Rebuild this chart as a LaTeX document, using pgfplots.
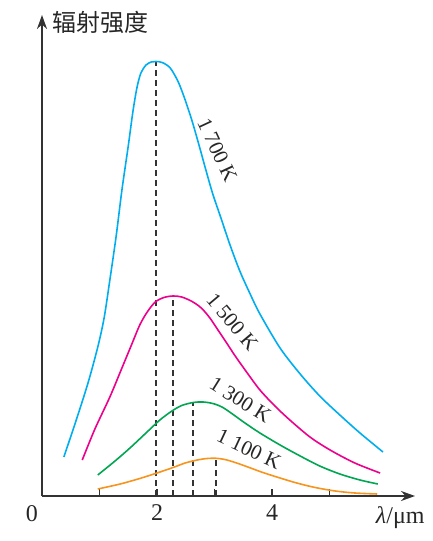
\documentclass[border=0pt]{standalone}
\usepackage{pgfplots}
\pgfplotsset{compat=1.18}
\usepackage{fontspec}
\setmainfont{Liberation Serif}
\newfontfamily\cjk{Noto Sans CJK SC}
\usetikzlibrary{arrows.meta}
\definecolor{cA}{RGB}{0,174,239}
\definecolor{cB}{RGB}{236,0,140}
\definecolor{cC}{RGB}{0,166,81}
\definecolor{cD}{RGB}{247,148,29}
\begin{document}
\begin{tikzpicture}
\begin{axis}[
  at={(0pt,0pt)}, anchor=origin,
  scale only axis, width=186.5pt, height=240.5pt,
  xmin=0, xmax=6.487, ymin=0, ymax=481,
  axis x line=bottom, axis y line=left,
  axis line style={line width=1pt, black!80, -{Stealth[length=7pt,width=5pt]}},
  xtick={1,2,3,4,5}, xticklabels={,2,,4,},
  ytick=\empty,
  tick align=inside, major tick length=3.5pt,
  tick style={line width=0.8pt, black!80},
  ticklabel style={font=\fontsize{12}{14}\selectfont, text=black!85},
  xticklabel style={yshift=-1pt},
  extra x ticks={0}, extra x tick labels={0},
  extra x tick style={major tick length=0pt, xticklabel style={xshift=-5pt}},
  clip=false,
]
% dashed peak lines
\pgfplotsset{peak/.style={dash pattern=on 3pt off 2pt, line width=0.8pt, black!80}}
\addplot[peak] coordinates {(1.98,0) (1.98,434.5)};
\addplot[peak] coordinates {(2.28,0) (2.28,200)};
\addplot[peak] coordinates {(2.63,0) (2.63,93.5)};
\addplot[peak] coordinates {(3.03,0) (3.03,37.7)};
% 1700 K
\addplot[cA, line width=0.8pt, smooth] coordinates {
(0.38,39) (0.59,75) (0.80,113) (0.97,149) (1.08,178) (1.18,216) (1.29,260)
(1.39,306) (1.50,350) (1.58,384) (1.65,408) (1.72,423) (1.81,431) (1.90,434)
(1.98,434.5) (2.09,433.5) (2.23,428) (2.37,414) (2.49,396) (2.61,375)
(2.73,351) (2.85,326) (2.97,302) (3.10,280) (3.27,251) (3.44,225) (3.62,202)
(3.79,182) (4.14,148) (4.49,122) (4.83,100) (5.18,81) (5.53,63) (5.93,44)};
% 1500 K
\addplot[cB, line width=0.8pt, smooth] coordinates {
(0.70,36) (0.92,67) (1.18,99) (1.39,128) (1.57,153) (1.70,171) (1.83,184)
(1.97,194) (2.12,198.5) (2.28,200) (2.43,199) (2.61,194.5) (2.77,188)
(2.92,178) (3.06,166) (3.20,154) (3.36,140) (3.57,123) (3.79,106) (4.05,90)
(4.31,76) (4.66,59) (5.01,46) (5.44,33) (5.88,23)};
% 1300 K
\addplot[cC, line width=0.8pt, smooth] coordinates {
(0.97,21) (1.27,35) (1.53,48) (1.79,62) (2.05,76) (2.26,85) (2.43,90.5)
(2.63,93.5) (2.80,94) (2.97,92.5) (3.13,89) (3.30,82.5) (3.53,73) (3.79,63)
(4.14,51) (4.49,40) (4.83,30) (5.18,22) (5.53,16) (5.84,12)};
% 1100 K
\addplot[cD, line width=0.8pt, smooth] coordinates {
(0.97,7) (1.36,12) (1.70,17.5) (2.00,23) (2.28,28.5) (2.49,33) (2.70,36)
(2.87,37.5) (3.03,37.7) (3.18,36.5) (3.36,33.5) (3.58,29) (3.84,23.5)
(4.14,18) (4.43,13) (4.75,8.5) (5.10,5) (5.44,3) (5.83,2)};
% curve labels
\node[rotate=-65, font=\fontsize{10.5}{12}\selectfont, text=black!85] at (axis cs:3.05,346) {1 700 K};
\node[rotate=-50, font=\fontsize{10.5}{12}\selectfont, text=black!85] at (axis cs:3.31,174) {1 500 K};
\node[rotate=-32, font=\fontsize{10.5}{12}\selectfont, text=black!85] at (axis cs:3.45,96) {1 300 K};
\node[rotate=-25, font=\fontsize{10.5}{12}\selectfont, text=black!85] at (axis cs:3.60,47) {1 100 K};
% axis labels
\node[anchor=west, font=\cjk\fontsize{12}{14}\selectfont, text=black!85, inner sep=0pt] at (axis cs:0.17,473.5) {辐射强度};
\node[font=\fontsize{12}{14}\selectfont, text=black!85] at (axis cs:6.23,0) [yshift=-11pt] {{\itshape λ}/μm};
\end{axis}
\pgfresetboundingbox
\useasboundingbox (-21pt,-22.5pt) rectangle (195.5pt,248pt);
\end{tikzpicture}
\end{document}
